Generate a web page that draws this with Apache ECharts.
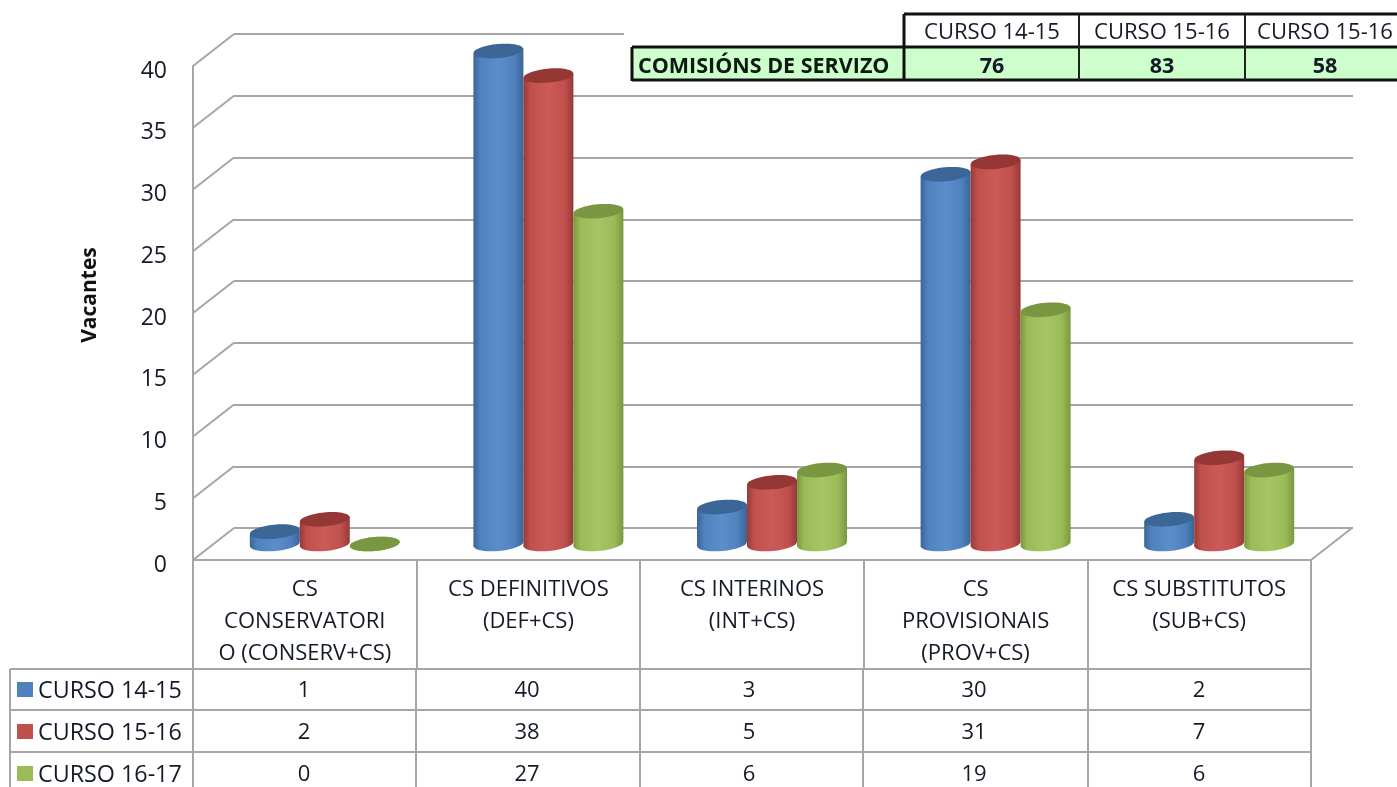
<!DOCTYPE html>
<html><head><meta charset="utf-8">
<style>html,body{margin:0;padding:0;background:#fff}#c{width:1397px;height:787px}</style>
<script src="https://cdn.jsdelivr.net/npm/echarts@6/dist/echarts.min.js"></script>
</head><body><div id="c"></div>
<script>
const categories = ['CS\nCONSERVATORI\nO (CONSERV+CS)', 'CS DEFINITIVOS\n(DEF+CS)', 'CS INTERINOS\n(INT+CS)', 'CS\nPROVISIONAIS\n(PROV+CS)', 'CS SUBSTITUTOS\n(SUB+CS)'];
const seriesNames = ['CURSO 14-15', 'CURSO 15-16', 'CURSO 16-17'];
const curso1415 = [1, 40, 3, 30, 2];
const curso1516 = [2, 38, 5, 31, 7];
const curso1617 = [0, 27, 6, 19, 6];
const yTicks = [0, 5, 10, 15, 20, 25, 30, 35, 40];
const topHeaders = ['CURSO 14-15', 'CURSO 15-16', 'CURSO 15-16'];
const topRowLabel = 'COMISIÓNS DE SERVIZO';
const topValues = [76, 83, 58];
const yTitle = 'Vacantes';

const FONT = '"Open Sans"';
const TXT = '#141a28';
const GRID = '#a6a6a6';
const palette = [
  {edge:'#3a6597', mid:'#4f81bd', light:'#5b8ecb', top:'#3b6695'},
  {edge:'#963a38', mid:'#c0504d', light:'#cc5b58', top:'#953735'},
  {edge:'#7a973f', mid:'#9bbb59', light:'#a6c663', top:'#799640'}
];
const allValues = [curso1415, curso1516, curso1617];

const chart = echarts.init(document.getElementById('c'), null, {renderer:'canvas'});

function cylinder(si){
  return function(params, api){
    const p = api.coord([api.value(0), api.value(1)]);
    const b = api.coord([api.value(0), 0]);
    const w = 50, ry = 7, t = 0.09, dy = Math.tan(t) * w / 2;
    const x = p[0] + (si - 1) * w;
    const c = palette[si];
    const grad = new echarts.graphic.LinearGradient(0,0,1,0,[
      {offset:0,color:c.edge},{offset:0.14,color:c.mid},{offset:0.5,color:c.light},
      {offset:0.82,color:c.mid},{offset:1,color:c.edge}]);
    const ell = (cy, fill) => ({type:'ellipse', shape:{cx:x, cy:cy, rx:w/2, ry:ry},
      originX:x, originY:cy, rotation:t, style:{fill:fill}});
    return {type:'group', children:[
      ell(b[1], grad),
      {type:'polygon', shape:{points:[[x-w/2,p[1]+dy],[x+w/2,p[1]-dy],[x+w/2,b[1]-dy],[x-w/2,b[1]+dy]]}, style:{fill:grad}},
      ell(p[1], c.top)
    ]};
  };
}

const lineStyle = {color:GRID, width:2};
function hline(x1,y,x2,col,w,z){return {type:'line',z:z||10,shape:{x1:x1,y1:y,x2:x2,y2:y},style:{stroke:col||GRID,lineWidth:w||2}};}
function vline(x,y1,y2,col,w,z){return {type:'line',z:z||10,shape:{x1:x,y1:y1,x2:x,y2:y2},style:{stroke:col||GRID,lineWidth:w||2}};}
function label(x,y,text,align,extra){return {type:'text',z:12,x:x,y:y,style:Object.assign({text:String(text),fill:TXT,font:'22px '+FONT,align:align||'center',verticalAlign:'middle'},extra||{})};}

const g = [];
g.push({type:'rect',z:5,shape:{x:624,y:0,width:773,height:82},style:{fill:'#fff'}});
g.push({type:'rect',z:6,shape:{x:632,y:48,width:765,height:32},style:{fill:'#ccffcc'}});
[[904,14,1397],[632,47,1397],[632,80,1397]].forEach(l=>g.push(hline(l[0],l[1],l[2],'#111',3)));
g.push(vline(632,47,81,'#111',3));
g.push(vline(904,14,81,'#111',3));
g.push(vline(1079,15,80,'#222',2));
g.push(vline(1245,15,80,'#222',2));
const topCx = [992,1162,1325];
g.push(label(638,67,topRowLabel,'left',{font:'bold 21.5px '+FONT,fill:'#0c1a10'}));
topHeaders.forEach((h,i)=>g.push(label(topCx[i],33,h)));
topValues.forEach((v,i)=>g.push(label(topCx[i],67,v,'center',{font:'bold 21.5px '+FONT})));
g.push({type:'text',z:12,x:90,y:295,rotation:Math.PI/2,style:{text:yTitle,fill:'#111',font:'bold 21px '+FONT,align:'center',verticalAlign:'middle'}});
const rowY = [669,710,752];
rowY.forEach(y=>g.push(hline(10,y,1311)));
const colX = [10,193,416,640,863,1088,1311];
colX.forEach(x=>g.push(vline(x,669,787)));
const cellCx = [304,527,749,974,1199], rowCy = [691,733,775];
seriesNames.forEach((n,r)=>{
  g.push({type:'rect',z:12,shape:{x:17,y:rowCy[r]-9,width:16,height:15},style:{fill:palette[r].mid}});
  g.push(label(38,rowCy[r],n,'left',{font:'23.3px '+FONT}));
  allValues[r].forEach((v,c)=>g.push(label(cellCx[c],rowCy[r],v)));
});

chart.setOption({
  animation:false,
  backgroundColor:'#fff',
  grid:[
    {left:193,top:66,width:1118,height:494},
    {left:234,top:34,width:1119,height:494},
    {left:213,top:51,width:1118,height:493}
  ],
  xAxis:[
    {type:'category',gridIndex:0,data:categories,
      axisLine:{show:true,lineStyle:lineStyle},
      axisTick:{show:true,length:109,alignWithLabel:false,lineStyle:lineStyle},
      axisLabel:{interval:0,margin:14,lineHeight:32,color:TXT,fontFamily:FONT,fontSize:22,verticalAlign:'top'}},
    {type:'category',gridIndex:1,data:categories,show:false},
    {type:'category',gridIndex:2,data:categories,show:false}
  ],
  yAxis:[
    {type:'value',gridIndex:0,min:0,max:40,interval:5,
      axisLine:{show:true,lineStyle:lineStyle},axisTick:{show:false},splitLine:{show:false},
      axisLabel:{margin:26,color:TXT,fontFamily:FONT,fontSize:23,verticalAlign:'top',lineHeight:10}},
    {type:'value',gridIndex:1,min:0,max:40,interval:5,
      axisLine:{show:false},axisTick:{show:false},axisLabel:{show:false},
      splitLine:{show:true,lineStyle:lineStyle}},
    {type:'value',gridIndex:2,min:0,max:40,interval:5,show:false,splitLine:{show:false}}
  ],
  series:[
    {type:'custom',name:'depth',xAxisIndex:0,yAxisIndex:0,z:1,silent:true,clip:false,
      data:yTicks.map(v=>[0,v]),encode:{x:0,y:1},
      renderItem:(p,api)=>{
        const c=api.coord([0,api.value(1)]), half=api.size([1,0])[0]/2;
        const x=c[0]-half;
        const kids=[{type:'line',shape:{x1:x,y1:c[1],x2:x+41,y2:c[1]-32},style:{stroke:GRID,lineWidth:2}}];
        if(api.value(1)===0){const xr=api.coord([4,0])[0]+half;
          kids.push({type:'line',shape:{x1:xr,y1:c[1],x2:xr+41,y2:c[1]-32},style:{stroke:GRID,lineWidth:2}});}
        return {type:'group',children:kids};
      }},
    ...allValues.map((vals,i)=>({type:'custom',name:seriesNames[i],xAxisIndex:2,yAxisIndex:2,z:3+i,clip:false,
      data:vals.map((v,c)=>[c,v]),encode:{x:0,y:1},renderItem:cylinder(i)}))
  ],
  graphic:{elements:g}
});
</script></body></html>
